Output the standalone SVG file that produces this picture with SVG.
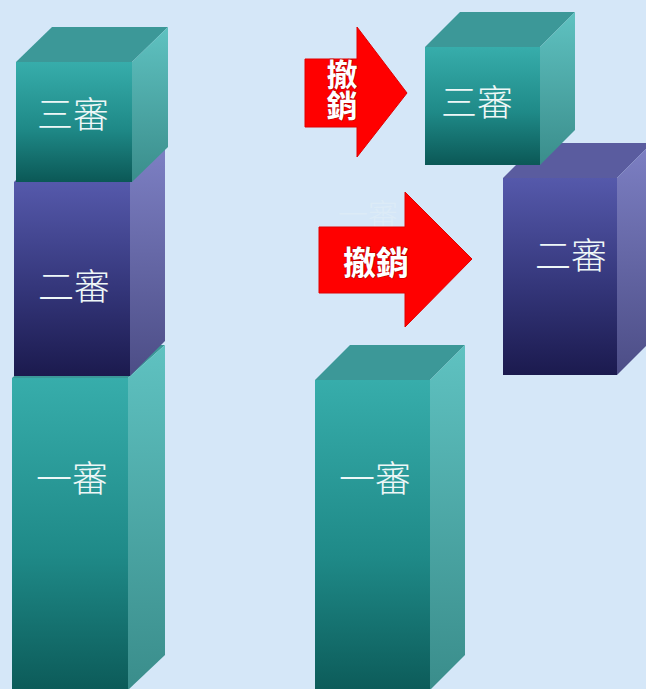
<svg xmlns="http://www.w3.org/2000/svg" width="646" height="689" viewBox="0 0 646 689">
  <defs>
    <linearGradient id="tealFront" x1="0" y1="0" x2="0" y2="1">
      <stop offset="0" stop-color="#37adab"/>
      <stop offset="0.55" stop-color="#1f8a88"/>
      <stop offset="1" stop-color="#0b5856"/>
    </linearGradient>
    <linearGradient id="tealSide" x1="0" y1="0" x2="0" y2="1">
      <stop offset="0" stop-color="#5fc2c1"/>
      <stop offset="1" stop-color="#3a8d8b"/>
    </linearGradient>
    <linearGradient id="blueFront" x1="0" y1="0" x2="0" y2="1">
      <stop offset="0" stop-color="#5559ab"/>
      <stop offset="0.55" stop-color="#34367a"/>
      <stop offset="1" stop-color="#1b1a4e"/>
    </linearGradient>
    <linearGradient id="blueSide" x1="0" y1="0" x2="0" y2="1">
      <stop offset="0" stop-color="#7d80c4"/>
      <stop offset="1" stop-color="#4c4d86"/>
    </linearGradient>
    <style>
      .tf { fill: url(#tealFront); }
      .ts { fill: url(#tealSide); }
      .tt { fill: #3c9898; }
      .bf { fill: url(#blueFront); }
      .bs { fill: url(#blueSide); }
      .bt { fill: #5a5c9f; }
      .lbl { font-family: "Noto Sans CJK TC", "Noto Sans CJK SC", sans-serif; font-weight: 300; fill: #eef7f7; text-anchor: middle; dominant-baseline: central; }
      .arrow { fill: #ff0000; stroke: #e00000; stroke-width: 1; }
      .atx { font-family: "Noto Sans CJK TC", "Noto Sans CJK SC", sans-serif; font-weight: 700; fill: #ffffff; stroke: #b80000; stroke-width: 1.2; paint-order: stroke; }
    </style>
  </defs>
  <rect x="0" y="0" width="646" height="689" fill="#d5e7f8"/>

  <!-- Left stack -->
  <g id="left-yishen">
    <polygon class="tt" points="12,378 128,378 165,345 49,345"/>
    <polygon class="ts" points="128,378 165,345 165,655 128,690"/>
    <rect class="tf" x="12" y="378" width="116" height="320"/>
    <text class="lbl" x="72" y="476" font-size="36">一審</text>
  </g>
  <g id="left-ershen">
    <polygon class="bt" points="14,182 130,182 165,147 49,147"/>
    <polygon class="bs" points="130,182 165,147 165,341 130,376"/>
    <rect class="bf" x="14" y="182" width="116" height="194"/>
    <text class="lbl" x="74" y="284" font-size="36">二審</text>
  </g>
  <g id="left-sanshen">
    <polygon class="tt" points="16,62 132,62 168,27 52,27"/>
    <polygon class="ts" points="132,62 168,27 168,147 132,182"/>
    <rect class="tf" x="16" y="62" width="116" height="120"/>
    <text class="lbl" x="73" y="112" font-size="36">三審</text>
  </g>

  <!-- Right column -->
  <g id="right-yishen">
    <polygon class="tt" points="315,380 430,380 465,345 350,345"/>
    <polygon class="ts" points="430,380 465,345 465,655 430,690"/>
    <rect class="tf" x="315" y="380" width="115" height="320"/>
    <text class="lbl" x="375" y="476" font-size="36">一審</text>
  </g>
  <g id="ghost-text">
    <text class="lbl" x="368" y="212" font-size="30" opacity="0.3">一審</text>
  </g>
  <g id="right-ershen">
    <polygon class="bt" points="503,178 617,178 652,143 538,143"/>
    <polygon class="bs" points="617,178 652,143 652,340 617,375"/>
    <rect class="bf" x="503" y="178" width="114" height="197"/>
    <text class="lbl" x="571" y="253" font-size="36">二審</text>
  </g>
  <g id="right-sanshen">
    <polygon class="tt" points="425,47 540,47 575,12 460,12"/>
    <polygon class="ts" points="540,47 575,12 575,130 540,165"/>
    <rect class="tf" x="425" y="47" width="115" height="118"/>
    <text class="lbl" x="477" y="100" font-size="36">三審</text>
  </g>

  <!-- Arrows -->
  <g id="connectors">
    <g id="arrow-1">
      <polygon class="arrow" points="305,59 357,59 357,27 407,93 357,157 357,127 305,127"/>
      <text class="atx" x="342" y="59" font-size="31" style="writing-mode: vertical-rl;">撤銷</text>
    </g>
    <g id="arrow-2">
      <polygon class="arrow" points="319,227 405,227 405,192 472,259 405,327 405,293 319,293"/>
      <text class="atx" x="376" y="261" font-size="33" text-anchor="middle" dominant-baseline="central">撤銷</text>
    </g>
  </g>
</svg>
